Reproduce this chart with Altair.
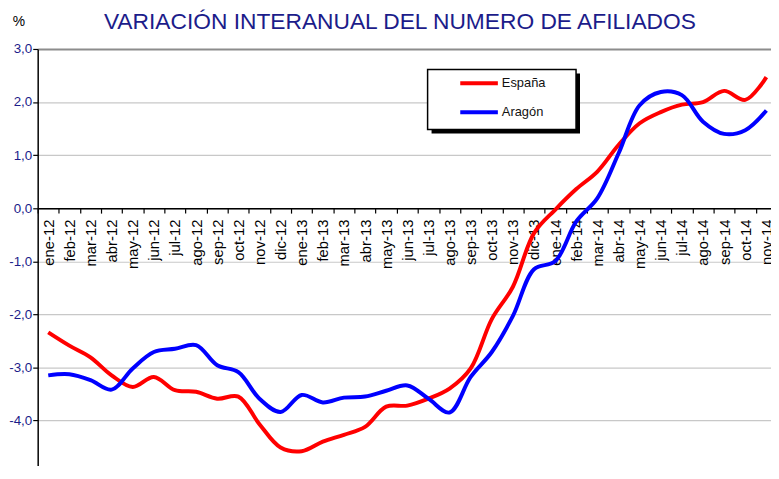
import altair as alt
import pandas as pd

# ---- data ----
months = ["ene-12", "feb-12", "mar-12", "abr-12", "may-12", "jun-12", "jul-12", "ago-12",
          "sep-12", "oct-12", "nov-12", "dic-12",
          "ene-13", "feb-13", "mar-13", "abr-13", "may-13", "jun-13", "jul-13", "ago-13",
          "sep-13", "oct-13", "nov-13", "dic-13",
          "ene-14", "feb-14", "mar-14", "abr-14", "may-14", "jun-14", "jul-14", "ago-14",
          "sep-14", "oct-14", "nov-14"]

espana = [-2.34, -2.59, -2.81, -3.15, -3.37, -3.18, -3.43, -3.46, -3.59, -3.55,
          -4.07, -4.51, -4.58, -4.40, -4.27, -4.12, -3.74, -3.72, -3.59, -3.40,
          -3.02, -2.09, -1.48, -0.47, -0.03, 0.36, 0.69, 1.19, 1.60, 1.81,
          1.95, 2.00, 2.21, 2.04, 2.47]

aragon = [-3.15, -3.13, -3.24, -3.42, -3.02, -2.71, -2.65, -2.58, -2.96, -3.09,
          -3.59, -3.84, -3.52, -3.66, -3.57, -3.55, -3.44, -3.34, -3.59, -3.85,
          -3.18, -2.71, -2.03, -1.15, -1.00, -0.25, 0.19, 1.03, 1.94, 2.19,
          2.13, 1.63, 1.40, 1.47, 1.84]

series_names = ["España", "Aragón"]
series_colors = ["#ff0000", "#0000ff"]
y_ticks = [-5, -4, -3, -2, -1, 0, 1, 2, 3]

title_text = "VARIACIÓN INTERANUAL DEL NUMERO DE AFILIADOS"
unit_text = "%"

# ---- build table ----
rows = []
for name, vals in zip(series_names, [espana, aragon]):
    for m, v in zip(months, vals):
        rows.append({"mes": m, "serie": name, "valor": v})
df = pd.DataFrame(rows)

# The plot area of the reference runs past the window on the right and bottom.
# The svg is kept inside the page; the overflow is clipped.
W_FULL, H_FULL = 747, 429
W, H = 741, 419
FONT = "Liberation Sans"
NAVY = "#1c1c8a"

x_enc = alt.X(
    "mes:N", sort=months, bandPosition=0.5,
    scale=alt.Scale(type="band", paddingInner=0, paddingOuter=0, range=[0, W_FULL]),
    axis=alt.Axis(
        title=None, labelAngle=270, labelFontSize=15, labelFont=FONT, labelColor="black",
        tickBand="extent", tickColor="black", tickSize=5, tickWidth=1.2,
        domainColor="black", domainWidth=1.5, offset=H_FULL * 3 / 8 - H, labelPadding=6,
        labelOverlap=False, labelBound=False, labelFlush=False, grid=False,
    ),
)

y_enc = alt.Y(
    "valor:Q",
    scale=alt.Scale(domain=[-5, 3], nice=False, zero=False, range=[H_FULL, 0]),
    axis=alt.Axis(
        title=None, values=y_ticks,
        labelExpr="(datum.value < 0 ? '-' : '') + replace(format(abs(datum.value), '.1f'), '.', ',')",
        labelFont=FONT, labelFontSize=13.5, labelColor=NAVY, labelPadding=1,
        tickColor="black", tickSize=5, tickWidth=1.2,
        domainColor="black", domainWidth=1.5,
        grid=True,
        gridColor={"condition": {"test": "datum.value == 3 || datum.value == -5", "value": "#8c8c8c"},
                   "value": "#c8c8c8"},
        gridWidth={"condition": {"test": "datum.value == 3", "value": 2}, "value": 1.2},
    ),
)

lines = alt.Chart(df).mark_line(strokeWidth=4, interpolate="catmull-rom").encode(
    x=x_enc,
    y=y_enc,
    color=alt.Color("serie:N", scale=alt.Scale(domain=series_names, range=series_colors), legend=None),
)

one = pd.DataFrame({"k": [0]})

title = alt.Chart(pd.DataFrame({"t": [title_text]})).mark_text(
    font=FONT, fontSize=23, color=NAVY, align="center", baseline="alphabetic"
).encode(x=alt.value(366), y=alt.value(-20.5), text="t:N")

unit = alt.Chart(pd.DataFrame({"t": [unit_text]})).mark_text(
    font=FONT, fontSize=14, color="black", align="center", baseline="alphabetic"
).encode(x=alt.value(-19), y=alt.value(-23), text="t:N")

# legend box with shadow
lx0, lx1, ly0, ly1 = 394, 544, 20.7, 81.3
shadow = alt.Chart(one).mark_rect(color="black").encode(
    x=alt.value(lx0 + 4), x2=alt.value(lx1 + 4), y=alt.value(ly0 + 4), y2=alt.value(ly1 + 4))
box = alt.Chart(one).mark_rect(fill="white", stroke="black", strokeWidth=1.5).encode(
    x=alt.value(lx0), x2=alt.value(lx1), y=alt.value(ly0), y2=alt.value(ly1))

legend_layers = [shadow, box]
for i, (name, col) in enumerate(zip(series_names, series_colors)):
    yy = 34.7 + i * 29.3
    legend_layers.append(
        alt.Chart(one).mark_rule(color=col, strokeWidth=4).encode(
            x=alt.value(427), x2=alt.value(465), y=alt.value(yy)))
    legend_layers.append(
        alt.Chart(pd.DataFrame({"t": [name]})).mark_text(
            font=FONT, fontSize=13, color="#111111", align="left", baseline="middle"
        ).encode(x=alt.value(469), y=alt.value(yy), text="t:N"))

chart = alt.layer(lines, title, unit, *legend_layers).properties(
    width=W, height=H,
    autosize=alt.AutoSizeParams(type="none"),
    padding={"left": 30, "top": 39, "right": 0, "bottom": 0},
    background="white",
).configure_view(stroke=None)

chart.save("out.html", embed_options={"renderer": "svg", "actions": False})
